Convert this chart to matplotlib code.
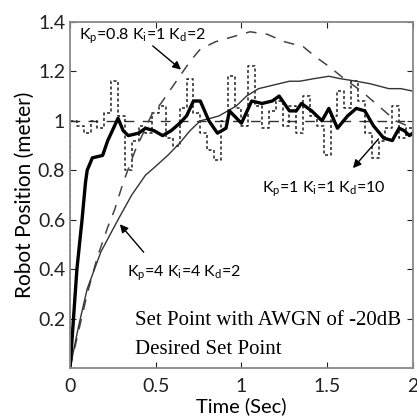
import numpy as np
import matplotlib
matplotlib.use('Agg')
import matplotlib.pyplot as plt

# Kp=1 Ki=1 Kd=10 (thick solid)
t_kd10 = [0.0, 0.04, 0.07, 0.09, 0.10, 0.13, 0.19, 0.22, 0.26, 0.28, 0.31, 0.34, 0.40, 0.44,
          0.49, 0.54, 0.59, 0.64, 0.68, 0.72, 0.76, 0.81, 0.86, 0.91, 0.93, 1.00, 1.06, 1.12,
          1.18, 1.22, 1.28, 1.32, 1.35, 1.41, 1.47, 1.51, 1.56, 1.62, 1.67, 1.72, 1.77, 1.83,
          1.88, 1.92, 1.95, 1.98, 2.0]
y_kd10 = [0.0, 0.40, 0.60, 0.75, 0.80, 0.85, 0.86, 0.92, 0.98, 1.01, 0.96, 0.94, 0.95, 0.97,
          0.96, 0.94, 0.96, 0.99, 1.02, 1.08, 1.08, 1.00, 0.95, 0.97, 1.04, 0.99, 1.08, 1.07,
          1.08, 1.10, 1.04, 1.04, 1.07, 1.04, 1.00, 1.05, 0.97, 1.02, 1.05, 1.04, 0.98, 0.93,
          0.92, 0.97, 0.96, 0.94, 0.95]

# Kp=4 Ki=4 Kd=2 (thin solid)
t_kp4 = [0.0, 0.05, 0.10, 0.18, 0.28, 0.36, 0.44, 0.49, 0.57, 0.64, 0.70, 0.76, 0.82, 0.87,
         0.97, 1.03, 1.10, 1.16, 1.22, 1.28, 1.34, 1.42, 1.51, 1.58, 1.67, 1.75, 1.86, 1.93, 2.0]
y_kp4 = [0.0, 0.17, 0.32, 0.47, 0.60, 0.70, 0.78, 0.81, 0.86, 0.91, 0.96, 1.00, 1.01, 1.02,
         1.06, 1.10, 1.13, 1.14, 1.15, 1.16, 1.16, 1.17, 1.18, 1.17, 1.16, 1.15, 1.13, 1.13, 1.12]

# Kp=0.8 Ki=1 Kd=2 (dashed)
t_kp08 = [0.0, 0.05, 0.10, 0.16, 0.22, 0.26, 0.31, 0.38, 0.48, 0.53, 0.59, 0.65, 0.70, 0.76,
          0.85, 0.95, 1.05, 1.15, 1.25, 1.36, 1.43, 1.51, 1.60, 1.70, 1.80, 1.90, 2.0]
y_kp08 = [0.0, 0.15, 0.30, 0.45, 0.57, 0.64, 0.75, 0.88, 1.03, 1.07, 1.13, 1.19, 1.24, 1.29,
          1.32, 1.34, 1.36, 1.35, 1.32, 1.30, 1.26, 1.22, 1.17, 1.12, 1.06, 1.00, 0.97]

# set point with AWGN of -20dB (dotted staircase)
t_noise = [0.0, 0.0, 0.04, 0.08, 0.12, 0.16, 0.20, 0.24, 0.28, 0.32, 0.36, 0.40, 0.44, 0.48,
           0.52, 0.56, 0.60, 0.64, 0.68, 0.72, 0.76, 0.80, 0.84, 0.88, 0.92, 0.96, 1.00,
           1.04, 1.08, 1.12, 1.16, 1.20, 1.24, 1.28, 1.32, 1.36, 1.40, 1.44, 1.48, 1.52,
           1.56, 1.60, 1.64, 1.68, 1.72, 1.76, 1.80, 1.84, 1.88, 1.92, 1.96, 2.0]
y_noise = [0.0, 1.00, 0.98, 0.95, 1.00, 0.97, 1.03, 1.16, 1.02, 0.80, 0.92, 0.98, 0.95, 1.03,
           1.06, 0.93, 0.90, 1.05, 1.17, 1.03, 0.95, 0.88, 0.84, 1.00, 1.18, 1.05, 0.98,
           1.22, 1.06, 0.97, 1.04, 1.08, 0.98, 1.06, 0.95, 1.10, 1.02, 0.98, 0.86, 1.02,
           1.12, 1.05, 1.16, 1.08, 0.95, 0.85, 0.92, 0.97, 1.06, 0.93, 0.97, 0.95]

# desired set point
t_set = [0.0, 2.0]
y_set = [1.0, 1.0]

xticks = [0, 0.5, 1, 1.5, 2]
xticklabels = ['0', '0.5', '1', '1.5', '2']
yticks = [0.2, 0.4, 0.6, 0.8, 1.0, 1.2, 1.4]
yticklabels = ['0.2', '0.4', '0.6', '0.8', '1', '1.2', '1.4']

plt.rcParams['font.family'] = ['Lato', 'DejaVu Sans']

fig = plt.figure(figsize=(4.17, 4.17), dpi=100)
ax = fig.add_axes([0.168, 0.1175, 0.822, 0.83])

ax.plot(t_set, y_set, color='#333333', lw=1.0, dashes=(7, 6))
ax.step(t_noise, y_noise, where='post', color='#222222', lw=1.1, dashes=(2, 1.6))
ax.plot(t_kp08, y_kp08, color='#444444', lw=1.1, dashes=(7, 6))
ax.plot(t_kp4, y_kp4, color='#333333', lw=1.0)
ax.plot(t_kd10, y_kd10, color='black', lw=2.4)

ax.set_xlim(0, 2)
ax.set_ylim(0, 1.4)
ax.set_xticks(xticks)
ax.set_xticklabels(xticklabels)
ax.set_yticks(yticks)
ax.set_yticklabels(yticklabels)
ax.tick_params(direction='in', top=True, right=True, length=4, labelsize=14, colors='#222222')
ax.tick_params(axis='x', pad=7)
for s in ax.spines.values():
    s.set_color('#888888')
    s.set_linewidth(1.3)

ax.set_xlabel('Time (Sec)', fontsize=14.5, labelpad=2)
ax.set_ylabel('Robot Position (meter)', fontsize=15, labelpad=2)

arrow = dict(arrowstyle='-|>', color='black', lw=1.0, mutation_scale=12)
ax.text(0.05, 1.33, r'K$_\mathregular{p}$=0.8 K$_\mathregular{i}$=1 K$_\mathregular{d}$=2', fontsize=11.5)
ax.annotate('', xy=(0.66, 1.20), xytext=(0.47, 1.31), arrowprops=arrow)
ax.text(1.12, 0.71, r'K$_\mathregular{p}$=1 K$_\mathregular{i}$=1 K$_\mathregular{d}$=10', fontsize=11.5)
ax.annotate('', xy=(1.64, 0.80), xytext=(1.81, 0.935), arrowprops=arrow)
ax.text(0.33, 0.37, r'K$_\mathregular{p}$=4 K$_\mathregular{i}$=4 K$_\mathregular{d}$=2', fontsize=11.5)
ax.annotate('', xy=(0.28, 0.59), xytext=(0.44, 0.46), arrowprops=arrow)

ax.text(0.38, 0.175, 'Set Point with AWGN of -20dB', fontsize=15, family='Liberation Serif')
ax.text(0.38, 0.055, 'Desired Set Point', fontsize=15, family='Liberation Serif')

fig.savefig('out.png', dpi=100)
